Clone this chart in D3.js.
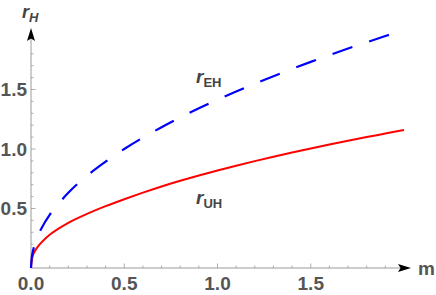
<!DOCTYPE html>
<html lang="en">
<head>
<meta charset="UTF-8">
<title>r_H vs m</title>
<style>
  body { margin: 0; background: #fff; }
  text { font-family: "Liberation Sans", Arial, sans-serif; }
</style>
</head>
<body>
<div id="chart"></div>
<script src="https://d3js.org/d3.v7.min.js"></script>
<script>
// values
var mVals = [0, 0.005, 0.01, 0.02, 0.03, 0.05, 0.1, 0.2, 0.3, 0.4, 0.5, 0.6, 0.7, 0.8, 0.9, 1.0,
             1.1, 1.2, 1.3, 1.4, 1.5, 1.6, 1.7, 1.8, 1.9, 2.0];
var rEH = [0, 0.10, 0.14, 0.20, 0.245, 0.316, 0.447, 0.632, 0.775, 0.894, 1.0, 1.095, 1.183, 1.265, 1.342, 1.414,
           1.483, 1.549, 1.612, 1.673, 1.732, 1.789, 1.844, 1.897, 1.949, 2.0];
var rUH = [0, 0.075, 0.105, 0.14, 0.165, 0.205, 0.28, 0.38, 0.455, 0.52, 0.578, 0.633, 0.685, 0.733, 0.778, 0.82,
           0.86, 0.898, 0.935, 0.97, 1.004, 1.037, 1.069, 1.10, 1.13, 1.16];
var xTicks = [0, 0.5, 1.0, 1.5];
var yTicks = [0.5, 1.0, 1.5];

var width = 436, height = 295;

var svg = d3.select("#chart").append("svg")
    .attr("width", width)
    .attr("height", height);

var x = d3.scaleLinear().domain([0, 2]).range([31, 404]);
var y = d3.scaleLinear().domain([0, 2]).range([268, 30]);

var axisCol = "#9a9a9a", labelCol = "#555";

// minor / major ticks
var xMinor = d3.range(1, 20).map(function(i) { return i / 10; });
var yMinor = d3.range(1, 19).map(function(i) { return i / 10; });
var isMajor = function(d) { return Math.abs(d * 2 - Math.round(d * 2)) < 1e-6; };

svg.append("g").selectAll("line").data(xMinor).enter().append("line")
    .attr("x1", function(d) { return x(d); })
    .attr("x2", function(d) { return x(d); })
    .attr("y1", y(0))
    .attr("y2", function(d) { return y(0) - (isMajor(d) ? 4.5 : 2.5); })
    .attr("stroke", axisCol).attr("stroke-width", 0.8);

svg.append("g").selectAll("line").data(yMinor).enter().append("line")
    .attr("y1", function(d) { return y(d); })
    .attr("y2", function(d) { return y(d); })
    .attr("x1", x(0))
    .attr("x2", function(d) { return x(0) + (isMajor(d) ? 4.5 : 2.5); })
    .attr("stroke", axisCol).attr("stroke-width", 0.8);

// axis lines
svg.append("line").attr("x1", x(0)).attr("x2", 402).attr("y1", y(0)).attr("y2", y(0))
    .attr("stroke", axisCol).attr("stroke-width", 1);
svg.append("line").attr("x1", x(0)).attr("x2", x(0)).attr("y1", y(0)).attr("y2", 36)
    .attr("stroke", axisCol).attr("stroke-width", 1);

// arrowheads
svg.append("path").attr("d", "M411," + y(0) + " L398," + (y(0) - 4) + " L400.5," + y(0) + " L398," + (y(0) + 4) + "Z")
    .attr("fill", "#000");
svg.append("path").attr("d", "M" + x(0) + ",28 L" + (x(0) - 4) + ",41 L" + x(0) + ",38.5 L" + (x(0) + 4) + ",41Z")
    .attr("fill", "#000");

// tick labels
svg.append("g").selectAll("text").data(xTicks).enter().append("text")
    .attr("x", function(d) { return x(d); })
    .attr("y", 290)
    .attr("text-anchor", "middle")
    .attr("font-size", 19).attr("font-weight", "bold").attr("fill", labelCol)
    .text(function(d) { return d.toFixed(1); });

svg.append("g").selectAll("text").data(yTicks).enter().append("text")
    .attr("x", 27)
    .attr("y", function(d) { return y(d) + 6.5; })
    .attr("text-anchor", "end")
    .attr("font-size", 19).attr("font-weight", "bold").attr("fill", labelCol)
    .text(function(d) { return d.toFixed(1); });

// axis labels
svg.append("text").attr("x", 418).attr("y", 275)
    .attr("font-size", 19).attr("font-weight", "bold").attr("fill", labelCol).text("m");

var yl = svg.append("text").attr("x", 22).attr("y", 18).attr("fill", "#444");
yl.append("tspan").attr("font-size", 18).attr("font-style", "italic").attr("font-weight", "bold").text("r");
yl.append("tspan").attr("font-size", 13).attr("font-style", "italic").attr("font-weight", "bold").attr("dy", 4).text("H");

// curves
var pts = function(arr) { return mVals.map(function(m, i) { return [m, arr[i]]; }); };
var line = d3.line()
    .x(function(d) { return x(d[0]); })
    .y(function(d) { return y(d[1]); })
    .curve(d3.curveCatmullRom.alpha(0.5));

svg.append("path").datum(pts(rUH)).attr("d", line)
    .attr("fill", "none").attr("stroke", "#ff0000").attr("stroke-width", 2);

var eh = svg.append("path").datum(pts(rEH)).attr("d", line)
    .attr("fill", "none").attr("stroke", "#0000ff").attr("stroke-width", 2.2);

// dashes: 21px on; gap tuned so a dash ends near m = 1.92, as in the picture
var node = eh.node(), total = node.getTotalLength();
var lo = 0, hi = total, target = x(1.92);
for (var k = 0; k < 40; k++) {
  var mid = (lo + hi) / 2;
  if (node.getPointAtLength(mid).x < target) lo = mid; else hi = mid;
}
var dashOn = 21, n = Math.round((lo - dashOn) / 38);
var gap = (lo - dashOn) / n - dashOn;
eh.attr("stroke-dasharray", dashOn + "," + gap.toFixed(2));

// curve labels
function curveLabel(px, py, sub) {
  var t = svg.append("text").attr("x", px).attr("y", py).attr("fill", "#444");
  t.append("tspan").attr("font-size", 19).attr("font-style", "italic").attr("font-weight", "bold").text("r");
  t.append("tspan").attr("font-size", 13).attr("font-weight", "bold").attr("dy", 4).text(sub);
}
curveLabel(196, 83, "EH");
curveLabel(196, 204, "UH");
</script>
</body>
</html>
